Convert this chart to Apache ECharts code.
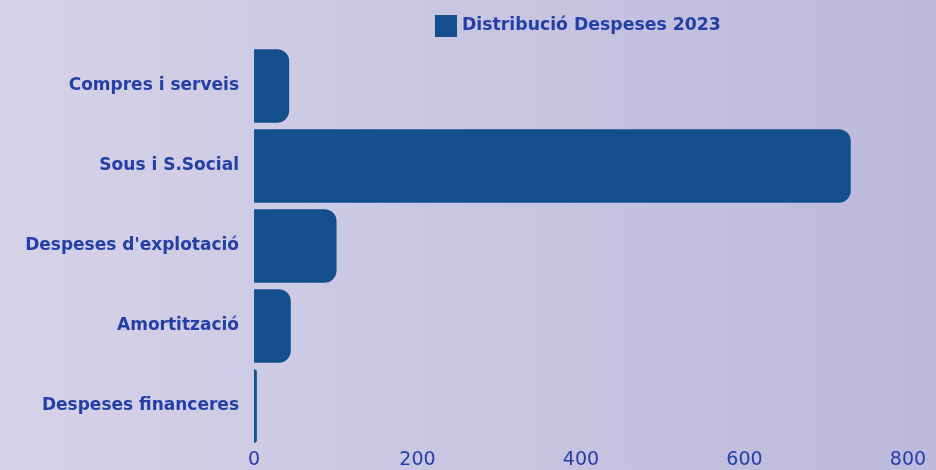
<!DOCTYPE html>
<html><head><meta charset="utf-8">
<script src="https://cdn.jsdelivr.net/npm/echarts@6/dist/echarts.min.js"></script>
<style>html,body{margin:0;padding:0;}#c{width:936px;height:470px;}</style>
</head><body><div id="c"></div>
<script>
const categories = ["Compres i serveis","Sous i S.Social","Despeses d'explotació","Amortització","Despeses financeres"];
const values = [43, 730, 101, 45, 3.5];
const seriesName = "Distribució Despeses 2023";
const xTicks = [0, 200, 400, 600, 800];

const chart = echarts.init(document.getElementById('c'));
chart.setOption({
  backgroundColor: {type:'linear', x:0, y:0, x2:1, y2:0, colorStops:[{offset:0,color:'#d5d2e8'},{offset:1,color:'#bdb9dc'}]},
  textStyle: {fontFamily: 'DejaVu Sans'},
  legend: {
    left: 430, top: 10, itemWidth: 22, itemHeight: 22, itemGap: 9,
    icon: 'rect',
    textStyle: {color:'#2440a6', fontSize: 17.3, fontWeight: 'bold', fontFamily:'DejaVu Sans'},
    data: [seriesName]
  },
  grid: {left: 254, right: 28, top: 46, bottom: 22, containLabel: false},
  xAxis: {
    type: 'value', min: xTicks[0], max: xTicks[xTicks.length-1], interval: 200,
    axisLine: {show:false}, axisTick: {show:false}, splitLine: {show:false},
    axisLabel: {color:'#2440a6', fontSize: 19, fontFamily:'DejaVu Sans', margin: 5}
  },
  yAxis: {
    type: 'category', data: categories, inverse: true,
    axisLine: {show:false}, axisTick: {show:false},
    axisLabel: {color:'#2440a6', fontSize: 17, fontWeight: 'bold', fontFamily:'DejaVu Sans', margin: 15}
  },
  series: [{
    name: seriesName, type: 'bar', data: values,
    barCategoryGap: '8%',
    itemStyle: {color:'#134f8c', borderRadius: [0, 12, 12, 0]}
  }]
});
</script></body></html>
